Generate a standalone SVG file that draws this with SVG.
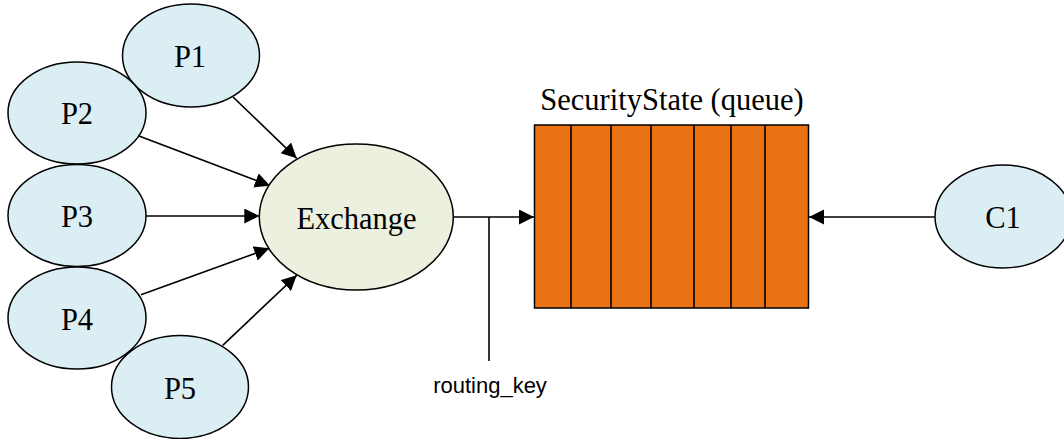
<svg xmlns="http://www.w3.org/2000/svg" width="1064" height="439" viewBox="0 0 1064 439">
<style>
.p{fill:#DBEEF4;stroke:#000;stroke-width:1.5}
.x{fill:#EBF1DE;stroke:#000;stroke-width:1.5}
.t{font-family:"Liberation Serif","Times New Roman",serif;font-size:30.5px;fill:#000;text-anchor:middle}
.c{stroke:#000;stroke-width:1.6;fill:none}
.q{fill:#E97213;stroke:#000;stroke-width:1.5}
</style>
<defs>
<marker id="ah" markerUnits="userSpaceOnUse" markerWidth="16" markerHeight="16" refX="15" refY="7.5" orient="auto">
<path d="M0,0 L15,7.5 L0,15 z" fill="#000"/>
</marker>
</defs>
<rect width="1064" height="439" fill="#fff"/>
<g id="connectors">
<line class="c" x1="233" y1="97" x2="296.7" y2="158.3" marker-end="url(#ah)"/>
<line class="c" x1="139" y1="136" x2="270" y2="185.7" marker-end="url(#ah)"/>
<line class="c" x1="145.7" y1="216" x2="259.3" y2="216" marker-end="url(#ah)"/>
<line class="c" x1="141" y1="294.7" x2="269.3" y2="248.3" marker-end="url(#ah)"/>
<line class="c" x1="222.7" y1="345.3" x2="296.7" y2="275.3" marker-end="url(#ah)"/>
<line class="c" x1="453" y1="217" x2="534" y2="217" marker-end="url(#ah)"/>
<line class="c" x1="489" y1="217" x2="489" y2="361"/>
<line class="c" x1="935" y1="217" x2="809" y2="217" marker-end="url(#ah)"/>
</g>
<g id="P1"><ellipse class="p" cx="191" cy="55.5" rx="68.5" ry="51.5"/><text class="t" x="190" y="66.5">P1</text></g>
<g id="P2"><ellipse class="p" cx="77" cy="113" rx="69" ry="51"/><text class="t" x="77" y="124">P2</text></g>
<g id="P3"><ellipse class="p" cx="77" cy="215.5" rx="69" ry="51"/><text class="t" x="77" y="227">P3</text></g>
<g id="P4"><ellipse class="p" cx="77" cy="318" rx="69" ry="51"/><text class="t" x="77" y="330">P4</text></g>
<g id="P5"><ellipse class="p" cx="180" cy="387" rx="68.5" ry="51.5"/><text class="t" x="180" y="399">P5</text></g>
<g id="Exchange"><ellipse class="x" cx="356.3" cy="217" rx="97" ry="73"/><text class="t" x="356.5" y="229">Exchange</text></g>
<g id="queue">
<rect class="q" x="534.5" y="125" width="274" height="183"/>
<line class="c" x1="571" y1="125" x2="571" y2="308"/>
<line class="c" x1="611" y1="125" x2="611" y2="308"/>
<line class="c" x1="651" y1="125" x2="651" y2="308"/>
<line class="c" x1="694" y1="125" x2="694" y2="308"/>
<line class="c" x1="731" y1="125" x2="731" y2="308"/>
<line class="c" x1="765" y1="125" x2="765" y2="308"/>
<text class="t" x="672" y="110">SecurityState (queue)</text>
</g>
<g id="C1"><ellipse class="p" cx="1003" cy="216.5" rx="68" ry="51.5"/><text class="t" x="1003" y="227.5">C1</text></g>
<text x="490" y="393" font-family="Liberation Sans, Arial, sans-serif" font-size="22" text-anchor="middle" fill="#000">routing_key</text>
</svg>
